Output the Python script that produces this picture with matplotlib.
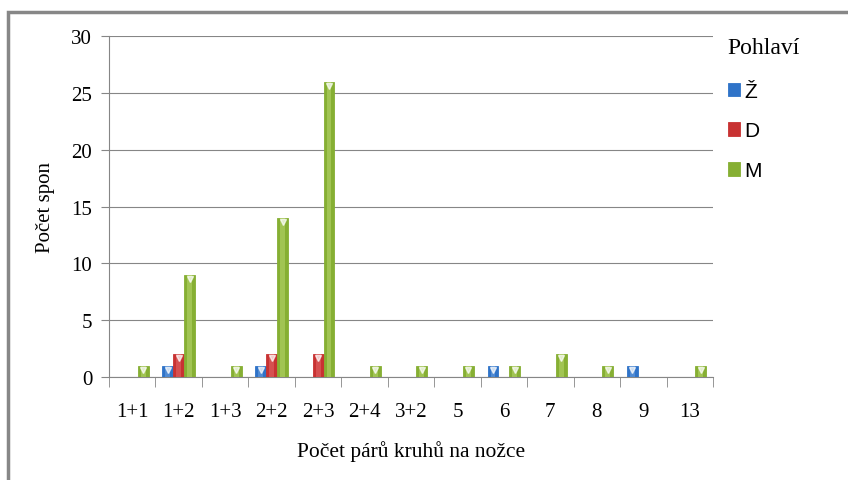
import numpy as np
import matplotlib.pyplot as plt
from matplotlib.patches import Rectangle
from matplotlib.transforms import offset_copy

# Data
categories = ['1+1', '1+2', '1+3', '2+2', '2+3', '2+4', '3+2', '5', '6', '7', '8', '9', '13']
zeny = [0, 1, 0, 1, 0, 0, 0, 0, 1, 0, 0, 1, 0]
divky = [0, 2, 0, 2, 2, 0, 0, 0, 0, 0, 0, 0, 0]
muzi = [1, 9, 1, 14, 26, 1, 1, 1, 1, 2, 1, 0, 1]

series = [('Ž', zeny, '#2F73C8', '#8FB8EA'),
          ('D', divky, '#C83232', '#F08A8A'),
          ('M', muzi, '#86AF33', '#D6EC90')]

fig = plt.figure(figsize=(8.48, 4.81), dpi=100)
ax = fig.add_axes([0.1285, 0.2141, 0.7123, 0.7089])

# outer frame of the chart
fig.patches.append(Rectangle((8 / 848, -0.1), 1.2, 1 - 13 / 481 + 0.1,
                             transform=fig.transFigure, fill=False,
                             edgecolor='#878787', linewidth=2.5))

x = np.arange(len(categories))
w = 0.235
serif = 'Liberation Serif'

for i, (name, vals, col, light) in enumerate(series):
    pos = x + (i - 1) * w
    vals = np.array(vals)
    ax.bar(pos, vals, width=w, color=col, edgecolor=col, linewidth=0.6,
           label=name, zorder=3)
    # lighter inner strip to mimic the bevel
    ax.bar(pos, vals, width=w * 0.45, color=light, alpha=0.35,
           linewidth=0, zorder=4)
    m = vals > 0
    tr = offset_copy(ax.transData, fig=fig, x=0, y=-3, units='points')
    ax.plot(pos[m], vals[m], linestyle='none', marker='v', markersize=4,
            color='#FFFFFF', alpha=0.7, transform=tr, zorder=5)

ax.set_xlim(-0.5, len(categories) - 0.5)
ax.set_ylim(0, 30)
ax.set_yticks(range(0, 31, 5))
ax.set_xticks(x)
ax.set_xticklabels(categories)
ax.set_xticks(np.arange(-0.5, len(categories), 1), minor=True)
ax.tick_params(axis='x', which='major', length=0, pad=18)
ax.tick_params(axis='x', which='minor', length=7, color='#868686', direction='out')
ax.tick_params(axis='y', length=6, color='#868686', direction='out', pad=6)
for lab in ax.get_xticklabels() + ax.get_yticklabels():
    lab.set_fontfamily(serif)
    lab.set_fontsize(15)

ax.grid(axis='y', color='#868686', linewidth=0.8, zorder=0)
for s in ['top', 'right']:
    ax.spines[s].set_visible(False)
for s in ['left', 'bottom']:
    ax.spines[s].set_color('#868686')

ax.set_ylabel('Počet spon', fontfamily=serif, fontsize=15, labelpad=12)
ax.set_xlabel('Počet párů kruhů na nožce', fontfamily=serif, fontsize=15.5, labelpad=14)

leg = ax.legend(loc='upper left', bbox_to_anchor=(1.0, 1.04), frameon=False,
                title='Pohlaví', prop={'family': 'Liberation Sans', 'size': 15},
                handlelength=0.6, handleheight=0.6, handletextpad=0.2,
                labelspacing=1.0, alignment='left', borderpad=0.2)
leg.get_title().set_fontfamily(serif)
leg.get_title().set_fontsize(17)
leg._legend_box.sep = 17

fig.savefig('out.png', dpi=100)
